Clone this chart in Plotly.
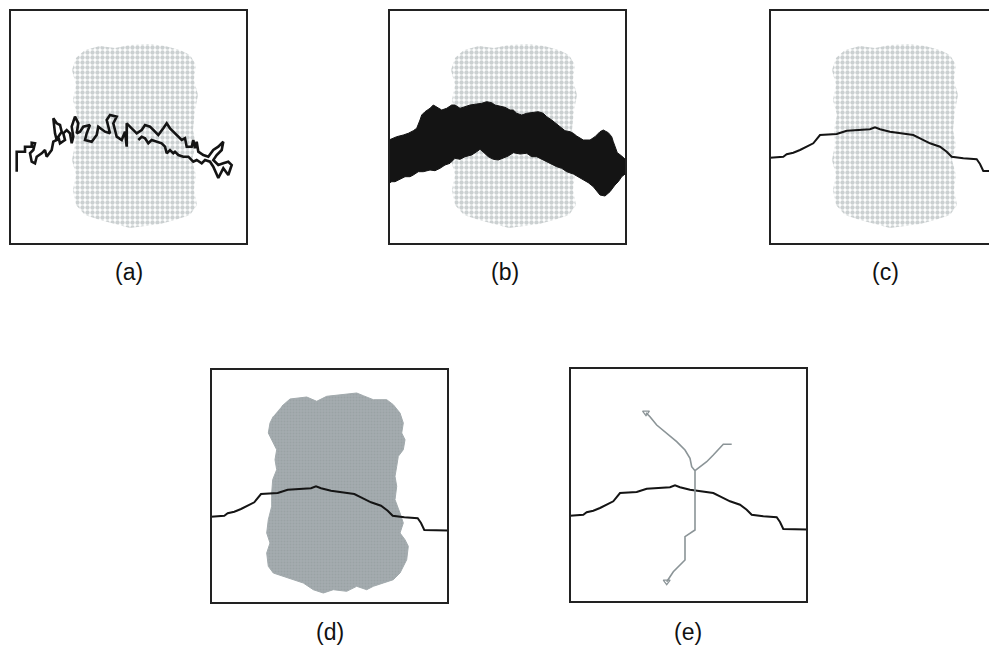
import plotly.graph_objects as go

# ---------------- data (panel-local units: x 0..237 right, y 0..234 down) ----------------
cloud_x = [75, 90, 105, 120, 140, 155, 170, 180, 186, 184, 188, 185, 183, 186, 182, 186, 184, 187,
           180, 165, 150, 135, 120, 105, 90, 75, 66, 63, 66, 62, 65, 64, 67, 63, 66, 62, 66]
cloud_y = [40, 36, 38, 35, 34, 36, 40, 45, 55, 70, 85, 100, 120, 135, 150, 165, 180, 195,
           205, 210, 214, 216, 218, 214, 210, 205, 195, 180, 165, 150, 135, 120, 105, 90, 75, 60, 48]

blob_x = [70.7, 79, 95.7, 105.7, 115.7, 129, 145.7, 152.3, 162.3, 175.7, 182.3, 189, 192.3, 190.7,
          194, 192.3, 187.3, 185.7, 184, 185.7, 184, 189, 192.3, 189, 194, 197.3, 195.7, 189,
          182.3, 172.3, 162.3, 155.7, 145.7, 135.7, 122.3, 112.3, 102.3, 92.3, 82.3, 72.3, 62.3,
          57.3, 55.7, 59, 55.7, 57.3, 60.7, 60.7, 61.7, 65.7, 64, 65.7, 60.7, 57.3, 59, 62.3]
blob_y = [37.3, 30, 28, 32.3, 27.3, 25.7, 24, 26.7, 30.7, 30.7, 35.7, 44, 54, 64,
          70.7, 80.7, 87.3, 97.3, 107.3, 117.3, 130.7, 144, 154, 164, 170.7, 177.3, 190.7, 204,
          210.7, 214, 217.3, 220.7, 217.3, 222.3, 220.7, 224, 220.7, 214, 210.7, 207.3, 204,
          197.3, 184, 174, 164, 150.7, 137.3, 124, 110.7, 100.7, 90.7, 80.7, 70.7, 64, 54, 47.3]

walk_x = [6.7, 6.7, 15, 15, 21.7, 21.7, 25, 23.3, 20, 21.7, 25, 26.7, 31.7, 35, 36.7, 41.7, 43.3,
          46.7, 45, 43.3, 46.7, 50, 51.7, 48.3, 50, 55, 53.3, 56.7, 60, 61.7, 63.3, 61.7, 65, 68.3,
          66.7, 70, 73.3, 80, 76.7, 75, 81.7, 86.7, 88.3, 95, 100, 96.7, 100, 106.7, 103.3, 106.7,
          111.7, 115, 116.7, 116.7, 121.7, 126.7, 131.7, 135, 140, 145, 148.3, 153.3, 156.7, 160,
          165, 168.3, 171.7, 175, 176.7, 181.7, 183.3, 185, 186.7, 188.3, 193.3, 198.3, 203.3,
          208.3, 213.3, 211.7, 206.7, 203.3, 208.3, 213.3, 218.3, 221.7, 218.3, 213.3, 208.3,
          203.3, 200, 195, 191.7, 186.7, 183.3, 178.3, 173.3, 168.3, 165, 163.3, 160, 156.7, 155,
          151.7, 146.7, 141.7, 138.3, 135, 131.7, 128.3]
walk_y = [161.7, 141.7, 141.7, 136.7, 136.7, 132.7, 133.3, 140, 143.3, 151.7, 153.3, 146.7, 143.3,
          140, 146.7, 140, 131.7, 130, 123.3, 108.3, 113.3, 115, 121.7, 126.7, 133.3, 130, 123.3,
          120, 123.3, 133.3, 126.7, 116.7, 106.7, 113.3, 123.3, 121.7, 116.7, 115, 123.3, 130,
          131.7, 125, 116.7, 121.7, 123.3, 110, 105, 106.7, 113.3, 126.7, 130, 121.7, 136.7,
          113.3, 118.3, 123.3, 120, 115, 116.7, 121.7, 125, 118.3, 113.3, 118.3, 123.3, 126.7,
          130, 128.3, 136.7, 136.7, 130, 138.3, 131.7, 141.7, 145, 146.7, 140, 136.7, 131.7, 140,
          145, 150, 155, 153.3, 151.7, 155, 165, 158.3, 168, 156.7, 151.7, 150, 153.3, 150,
          151.7, 146.7, 146.7, 145, 141.7, 143.3, 140, 143.3, 136.7, 133.3, 131.7, 130, 133.3,
          128.3, 126.7, 130]

band_x = [0, 7.7, 14.3, 19.3, 24.3, 27.7, 31, 32.7, 36, 41, 44.3, 49.3, 52.7, 57.7, 62.7, 66, 71,
          76, 81, 87.7, 92.7, 97.7, 102.7, 106, 111, 116, 121, 124.3, 127.7, 132.7, 137.7, 144.3,
          149.3, 154.3, 157.7, 162.7, 167.7, 172.7, 176, 181, 184.3, 187.7, 194.3, 201, 206, 211,
          214.3, 219.3, 222.7, 224.3, 226, 228.3, 232.7, 237, 237,
          232.7, 229.3, 226, 221, 216, 211, 207.7, 204.3, 199.3, 194.3, 190.3, 184.3, 177.7,
          172.7, 167.7, 161, 154.3, 147.7, 142.7, 137.7, 131, 124.3, 119.3, 114.3, 109.3, 104.3,
          99.3, 95, 91, 87.7, 82.7, 76, 71, 66, 61, 56, 51, 46, 41, 34.3, 29.3, 24.3, 21, 16, 11,
          6, 2.7, 0]
band_y = [130, 126.7, 125, 123.3, 120.7, 118.3, 110, 105, 101.7, 98.3, 95, 98.3, 100, 98.3, 95,
          95, 98.3, 96.7, 95, 94, 93.3, 91.7, 92.7, 95, 96, 97.3, 100, 100, 103.3, 105, 103.3,
          102.7, 101.7, 103.3, 106.7, 110, 114, 118.3, 120.7, 121.7, 123.3, 126, 130, 130, 126.7,
          121.7, 120, 122.7, 126.7, 131.7, 136.7, 142.7, 146, 150, 163.3,
          166.7, 171.7, 175, 181.7, 186, 185, 180.7, 176.7, 172.7, 170, 167.3, 164, 161.7,
          158.3, 156.7, 153.3, 150, 146.7, 146.7, 143.3, 144, 142.7, 146, 148.3, 150, 149.3,
          146.7, 142.7, 139.3, 141.7, 145, 146.7, 149.3, 148.3, 153.3, 155, 158.3, 160.7, 160,
          161.7, 161.7, 165, 166.7, 166.7, 169, 171.7, 171.7, 173.3]

boundary_x = [0, 13.3, 16.7, 23.3, 30, 36.7, 43.3, 50, 66.7, 76.7, 86.7, 100, 105, 110, 120, 133.3,
              143.3, 150, 160, 170, 176.7, 181.7, 193.3, 206.7, 210, 213.3, 237]
boundary_y = [147.7, 146.7, 144.3, 142.7, 140, 136.7, 133.3, 125, 124, 120.7, 120, 119.3, 117.3,
              119.3, 121.7, 123.3, 125, 128.3, 133.3, 136.7, 141.7, 146.7, 148.3, 149.3, 154, 161,
              161.5]

tree_trunk_x = [76, 80, 86.7, 96.7, 106.7, 115, 120, 121.7, 125, 125, 120, 115, 115, 111.7, 108.3,
                103.3, 100, 96.7]
tree_trunk_y = [44.7, 48.7, 57, 65.3, 73.7, 82, 90.3, 98.7, 102.7, 162, 165.3, 168.7, 192, 195.3,
                198.7, 203.7, 208.7, 213.7]
tree_branch_x = [125, 130, 136.7, 143.3, 150, 153.3, 161.7]
tree_branch_y = [102.7, 98.7, 93.7, 87, 80.3, 76.3, 76.3]
tree_tips_x = [76, 96.7]
tree_tips_y = [44.7, 213.7]

panel_labels = ["(a)", "(b)", "(c)", "(d)", "(e)"]

# ---------------- figure ----------------
# the page body has an 8px margin, so the figure starts at (8, 8) in the window
OX, OY = 8, 8
W, H = 997 - OX, 656 - OY
CLOUD = "#98a1a4"
INK = "#141414"
TREE = "#8b9497"

fig = go.Figure()

def cloud_trace(ax):
    return go.Scatter(x=cloud_x, y=cloud_y, xaxis="x" + ax, yaxis="y" + ax, mode="lines",
                      fill="toself", fillcolor="rgba(0,0,0,0)", line=dict(width=0),
                      fillpattern=dict(shape=".", fgcolor=CLOUD, bgcolor="rgba(0,0,0,0)",
                                       size=5, solidity=0.6),
                      hoverinfo="skip", showlegend=False)

# (a)
fig.add_trace(cloud_trace(""))
fig.add_trace(go.Scatter(x=walk_x, y=walk_y, xaxis="x", yaxis="y", mode="lines",
                         line=dict(color=INK, width=2.6), showlegend=False))
# (b)
fig.add_trace(cloud_trace("2"))
fig.add_trace(go.Scatter(x=band_x, y=band_y, xaxis="x2", yaxis="y2", mode="lines", fill="toself",
                         fillcolor=INK, line=dict(color=INK, width=1), showlegend=False))
# (c)
fig.add_trace(cloud_trace("3"))
fig.add_trace(go.Scatter(x=boundary_x, y=boundary_y, xaxis="x3", yaxis="y3", mode="lines",
                         line=dict(color=INK, width=2), showlegend=False))
# (d)
fig.add_trace(go.Scatter(x=blob_x, y=blob_y, xaxis="x4", yaxis="y4", mode="lines", fill="toself",
                         fillcolor="#a2aaad", line=dict(color="#a2aaad", width=1),
                         fillpattern=dict(shape=".", fgcolor="#8f989b", bgcolor="#a4acaf",
                                          size=3, solidity=0.35),
                         showlegend=False))
fig.add_trace(go.Scatter(x=boundary_x, y=boundary_y, xaxis="x4", yaxis="y4", mode="lines",
                         line=dict(color=INK, width=2), showlegend=False))
# (e)
fig.add_trace(go.Scatter(x=boundary_x, y=boundary_y, xaxis="x5", yaxis="y5", mode="lines",
                         line=dict(color=INK, width=2), showlegend=False))
fig.add_trace(go.Scatter(x=tree_trunk_x, y=tree_trunk_y, xaxis="x5", yaxis="y5", mode="lines",
                         line=dict(color=TREE, width=1.6), showlegend=False))
fig.add_trace(go.Scatter(x=tree_branch_x, y=tree_branch_y, xaxis="x5", yaxis="y5", mode="lines",
                         line=dict(color=TREE, width=1.6), showlegend=False))
fig.add_trace(go.Scatter(x=tree_tips_x, y=tree_tips_y, xaxis="x5", yaxis="y5", mode="markers",
                         marker=dict(symbol="triangle-down-open", size=6, color=TREE,
                                     line=dict(width=1.2)), showlegend=False))

# panel boxes in window pixels: left, top, right, bottom, x-extent (units)
boxes = [(10, 10, 247, 244, 237), (389, 10, 626, 244, 237), (770, 10, 997, 244, 227),
         (211, 369, 448, 603, 237), (570, 368, 807, 602, 237)]
label_pos = [(129, 272), (505, 272), (885, 272), (330, 632), (688, 632)]

layout = dict(width=W, height=H, margin=dict(l=0, r=0, t=0, b=0),
              paper_bgcolor="white", plot_bgcolor="rgba(0,0,0,0)", showlegend=False)
shapes = []
for i, (l, t, r, b, xe) in enumerate(boxes):
    suf = "" if i == 0 else str(i + 1)
    l, r, t, b = l - OX, r - OX, t - OY, b - OY
    layout["xaxis" + suf] = dict(domain=[l / W, min(r / W, 1.0)], range=[0, xe],
                                 anchor="y" + suf, visible=False, fixedrange=True)
    layout["yaxis" + suf] = dict(domain=[1 - b / H, 1 - t / H], range=[234, 0], anchor="x" + suf,
                                 visible=False, fixedrange=True)
    xr, yr = "x" + suf + " domain", "y" + suf + " domain"
    line = dict(color="#222222", width=2)
    if i == 2:
        shapes.append(dict(type="path", xref=xr, yref=yr, path="M 1.2 0 L 0 0 L 0 1 L 1.2 1",
                           line=line))
    else:
        shapes.append(dict(type="rect", xref=xr, yref=yr, x0=0, x1=1, y0=0, y1=1, line=line))

annotations = []
for txt, (px, py) in zip(panel_labels, label_pos):
    annotations.append(dict(text=txt, x=(px - OX) / W, y=1 - (py - OY) / H, xref="paper",
                            yref="paper", showarrow=False, xanchor="center", yanchor="middle",
                            font=dict(family="Liberation Sans, Arial, sans-serif", size=23,
                                      color="#111111")))
layout["shapes"] = shapes
layout["annotations"] = annotations
fig.update_layout(**layout)

fig.write_html("out.html")
